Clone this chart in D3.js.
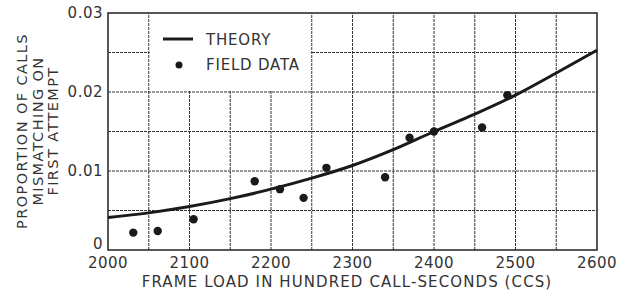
<!DOCTYPE html>
<html>
<head>
  <script src="https://d3js.org/d3.v7.min.js"></script>
  <style>
    body { margin: 0; background: #fff; }
    text { font-family: "DejaVu Sans", sans-serif; fill: #333; }
  </style>
</head>
<body>
  <div id="chart"></div>
  <script>
    // field data points (frame load, proportion mismatching)
    const fieldLoad = [2031, 2061, 2105, 2180, 2211, 2240, 2268, 2340, 2370, 2400, 2459, 2490];
    const fieldRate = [0.0022, 0.0024, 0.0039, 0.0087, 0.0077, 0.0066, 0.0104, 0.0092, 0.0142, 0.0150, 0.0155, 0.0196];

    // theory curve
    const theoryLoad = [2000, 2050, 2100, 2150, 2200, 2250, 2300, 2350, 2400, 2450, 2500, 2550, 2600];
    const theoryRate = [0.0041, 0.0047, 0.0055, 0.0065, 0.0077, 0.0091, 0.0107, 0.0127, 0.0150, 0.0172, 0.0196, 0.0224, 0.0253];

    const xTicks = [2000, 2100, 2200, 2300, 2400, 2500, 2600];
    const yTicks = [0, 0.01, 0.02, 0.03];
    const yTickLabels = ['0', '0.01', '0.02', '0.03'];
    const xGrid = d3.range(2050, 2600, 50);
    const yGrid = [0.005, 0.01, 0.015, 0.02, 0.025];
    const yTitle = ['PROPORTION OF CALLS', 'MISMATCHING ON', 'FIRST ATTEMPT'];

    const svg = d3.select('#chart')
      .append('svg')
      .attr('width', 632)
      .attr('height', 291);

    const x = d3.scaleLinear().domain([2000, 2600]).range([108, 597]);
    const y = d3.scaleLinear().domain([0, 0.03]).range([250, 13]);

    // grid
    svg.append('g')
      .selectAll('line')
      .data(xGrid)
      .join('line')
      .attr('x1', d => x(d)).attr('x2', d => x(d))
      .attr('y1', y(0)).attr('y2', y(0.03))
      .attr('stroke', '#333')
      .attr('stroke-width', 1)
      .attr('stroke-dasharray', '3,1');

    svg.append('g')
      .selectAll('line')
      .data(yGrid)
      .join('line')
      .attr('x1', x(2000)).attr('x2', x(2600))
      .attr('y1', d => y(d)).attr('y2', d => y(d))
      .attr('stroke', '#333')
      .attr('stroke-width', 1)
      .attr('stroke-dasharray', '3,1');

    // legend box hides grid
    svg.append('rect')
      .attr('x', x(2050) + 1)
      .attr('y', y(0.03))
      .attr('width', x(2250) - x(2050) - 2)
      .attr('height', y(0.02) - y(0.03) - 1)
      .attr('fill', '#fff');

    // plot frame
    svg.append('rect')
      .attr('x', x(2000)).attr('y', y(0.03))
      .attr('width', x(2600) - x(2000))
      .attr('height', y(0) - y(0.03))
      .attr('fill', 'none')
      .attr('stroke', '#222')
      .attr('stroke-width', 1.5);

    // theory line
    const line = d3.line()
      .x(d => x(d[0]))
      .y(d => y(d[1]))
      .curve(d3.curveMonotoneX);

    svg.append('path')
      .datum(theoryLoad.map((v, i) => [v, theoryRate[i]]))
      .attr('d', line)
      .attr('fill', 'none')
      .attr('stroke', '#1a1a1a')
      .attr('stroke-width', 3);

    // field data
    svg.append('g')
      .selectAll('circle')
      .data(fieldLoad.map((v, i) => [v, fieldRate[i]]))
      .join('circle')
      .attr('cx', d => x(d[0]))
      .attr('cy', d => y(d[1]))
      .attr('r', 4.2)
      .attr('fill', '#1a1a1a');

    // tick labels
    svg.append('g')
      .selectAll('text')
      .data(xTicks)
      .join('text')
      .attr('x', d => x(d))
      .attr('y', 268)
      .attr('text-anchor', 'middle')
      .attr('font-size', 15)
      .attr('letter-spacing', 0.5)
      .text(d => d);

    svg.append('g')
      .selectAll('text')
      .data(yTicks)
      .join('text')
      .attr('x', 103)
      .attr('y', (d, i) => i === 0 ? y(d) - 1 : y(d) + 5)
      .attr('text-anchor', 'end')
      .attr('font-size', 15)
      .attr('letter-spacing', 0.5)
      .text((d, i) => yTickLabels[i]);

    // axis titles
    svg.append('text')
      .attr('x', 347)
      .attr('y', 287)
      .attr('text-anchor', 'middle')
      .attr('font-size', 15)
      .attr('letter-spacing', 1.1)
      .text('FRAME LOAD IN HUNDRED CALL-SECONDS (CCS)');

    svg.append('g')
      .selectAll('text')
      .data(yTitle)
      .join('text')
      .attr('transform', (d, i) => `translate(${27 + i * 15.5}, 131) rotate(-90)`)
      .attr('text-anchor', 'middle')
      .attr('font-size', 14.5)
      .attr('letter-spacing', 1.4)
      .text(d => d);

    // legend
    svg.append('line')
      .attr('x1', 163).attr('x2', 193)
      .attr('y1', 39).attr('y2', 39)
      .attr('stroke', '#1a1a1a')
      .attr('stroke-width', 3);
    svg.append('text')
      .attr('x', 206).attr('y', 45)
      .attr('font-size', 15)
      .attr('letter-spacing', 0.8)
      .text('THEORY');
    svg.append('circle')
      .attr('cx', 179).attr('cy', 65)
      .attr('r', 3.5)
      .attr('fill', '#1a1a1a');
    svg.append('text')
      .attr('x', 206).attr('y', 70)
      .attr('font-size', 15)
      .attr('letter-spacing', 0.8)
      .text('FIELD DATA');
  </script>
</body>
</html>
